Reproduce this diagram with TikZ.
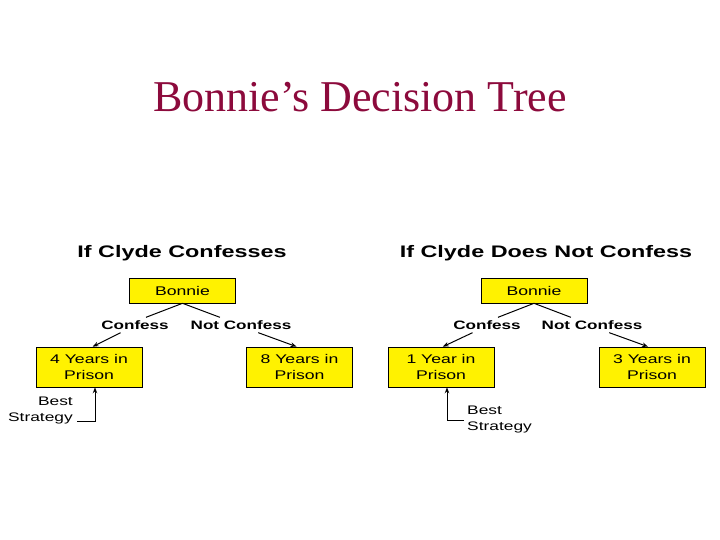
\documentclass[tikz,border=0pt]{standalone}
\usepackage{fontspec}
\setmainfont{Liberation Serif}
\newfontfamily\wsans[FakeStretch=1.4]{Liberation Sans}
\usetikzlibrary{arrows.meta}
\definecolor{titlered}{RGB}{140,10,60}

\begin{document}
\begin{tikzpicture}[x=1pt, y=-1pt, >={Stealth[length=6pt, width=4.5pt]},
    box/.style={draw=black, line width=0.6pt, fill=yellow, minimum width=106pt,
        align=center, inner sep=0pt, font=\wsans\fontsize{12.6}{16}\selectfont},
    choice/.style={font=\wsans\bfseries\fontsize{12.2}{14}\selectfont, inner sep=3pt},
    note/.style={font=\wsans\fontsize{12.4}{16}\selectfont, inner sep=1pt},
    heading/.style={font=\wsans\bfseries\fontsize{16.7}{20}\selectfont, anchor=base},
    link/.style={line width=1pt}]
            \useasboundingbox (0,0) rectangle (720,540);

            \node[anchor=base, text=titlered, font=\fontsize{44}{50}\selectfont] (title) at (360,112) {Bonnie's Decision Tree};

            % left tree: Clyde confesses
            \node[heading] (hdL) at (182,257) {If Clyde Confesses};
            \node[box, minimum height=25pt] (bonL) at (182.5,290.5) {Bonnie};
            \node[choice] (cfL) at (135,325) {Confess};
            \node[choice] (ncL) at (241,325) {Not Confess};
            \node[box, minimum height=40pt] (y4L) at (89,367) {4 Years in\\Prison};
            \node[box, minimum height=40pt] (y8L) at (299.5,367) {8 Years in\\Prison};
            \node[note, anchor=east, align=right] (bsL) at (74,411) {Best\\Strategy};

            \draw[link] (bonL.south) -- (cfL.35);
            \draw[link] (bonL.south) -- (ncL.160);
            \draw[link, ->] (cfL.208) -- (y4L.80);
            \draw[link, ->] (ncL.336) -- (y8L.98);
            \draw[link, ->] ([xshift=3pt, yshift=-10pt]bsL.east) -| ([xshift=6pt]y4L.south);

            % right tree: Clyde does not confess
            \node[heading] (hdR) at (546,257) {If Clyde Does Not Confess};
            \node[box, minimum height=25pt] (bonR) at (534,290.5) {Bonnie};
            \node[choice] (cfR) at (487,325) {Confess};
            \node[choice] (ncR) at (592,325) {Not Confess};
            \node[box, minimum height=40pt] (y1R) at (441,367) {1 Year in\\Prison};
            \node[box, minimum height=40pt] (y3R) at (652,367) {3 Years in\\Prison};
            \node[note, anchor=west, align=left] (bsR) at (466,420) {Best\\Strategy};

            \draw[link] (bonR.south) -- (cfR.35);
            \draw[link] (bonR.south) -- (ncR.160);
            \draw[link, ->] (cfR.208) -- (y1R.85);
            \draw[link, ->] (ncR.336) -- (y3R.101);
            \draw[link, ->] ([xshift=-2pt]bsR.west) -| ([xshift=6pt]y1R.south);
        \end{tikzpicture}
\end{document}
